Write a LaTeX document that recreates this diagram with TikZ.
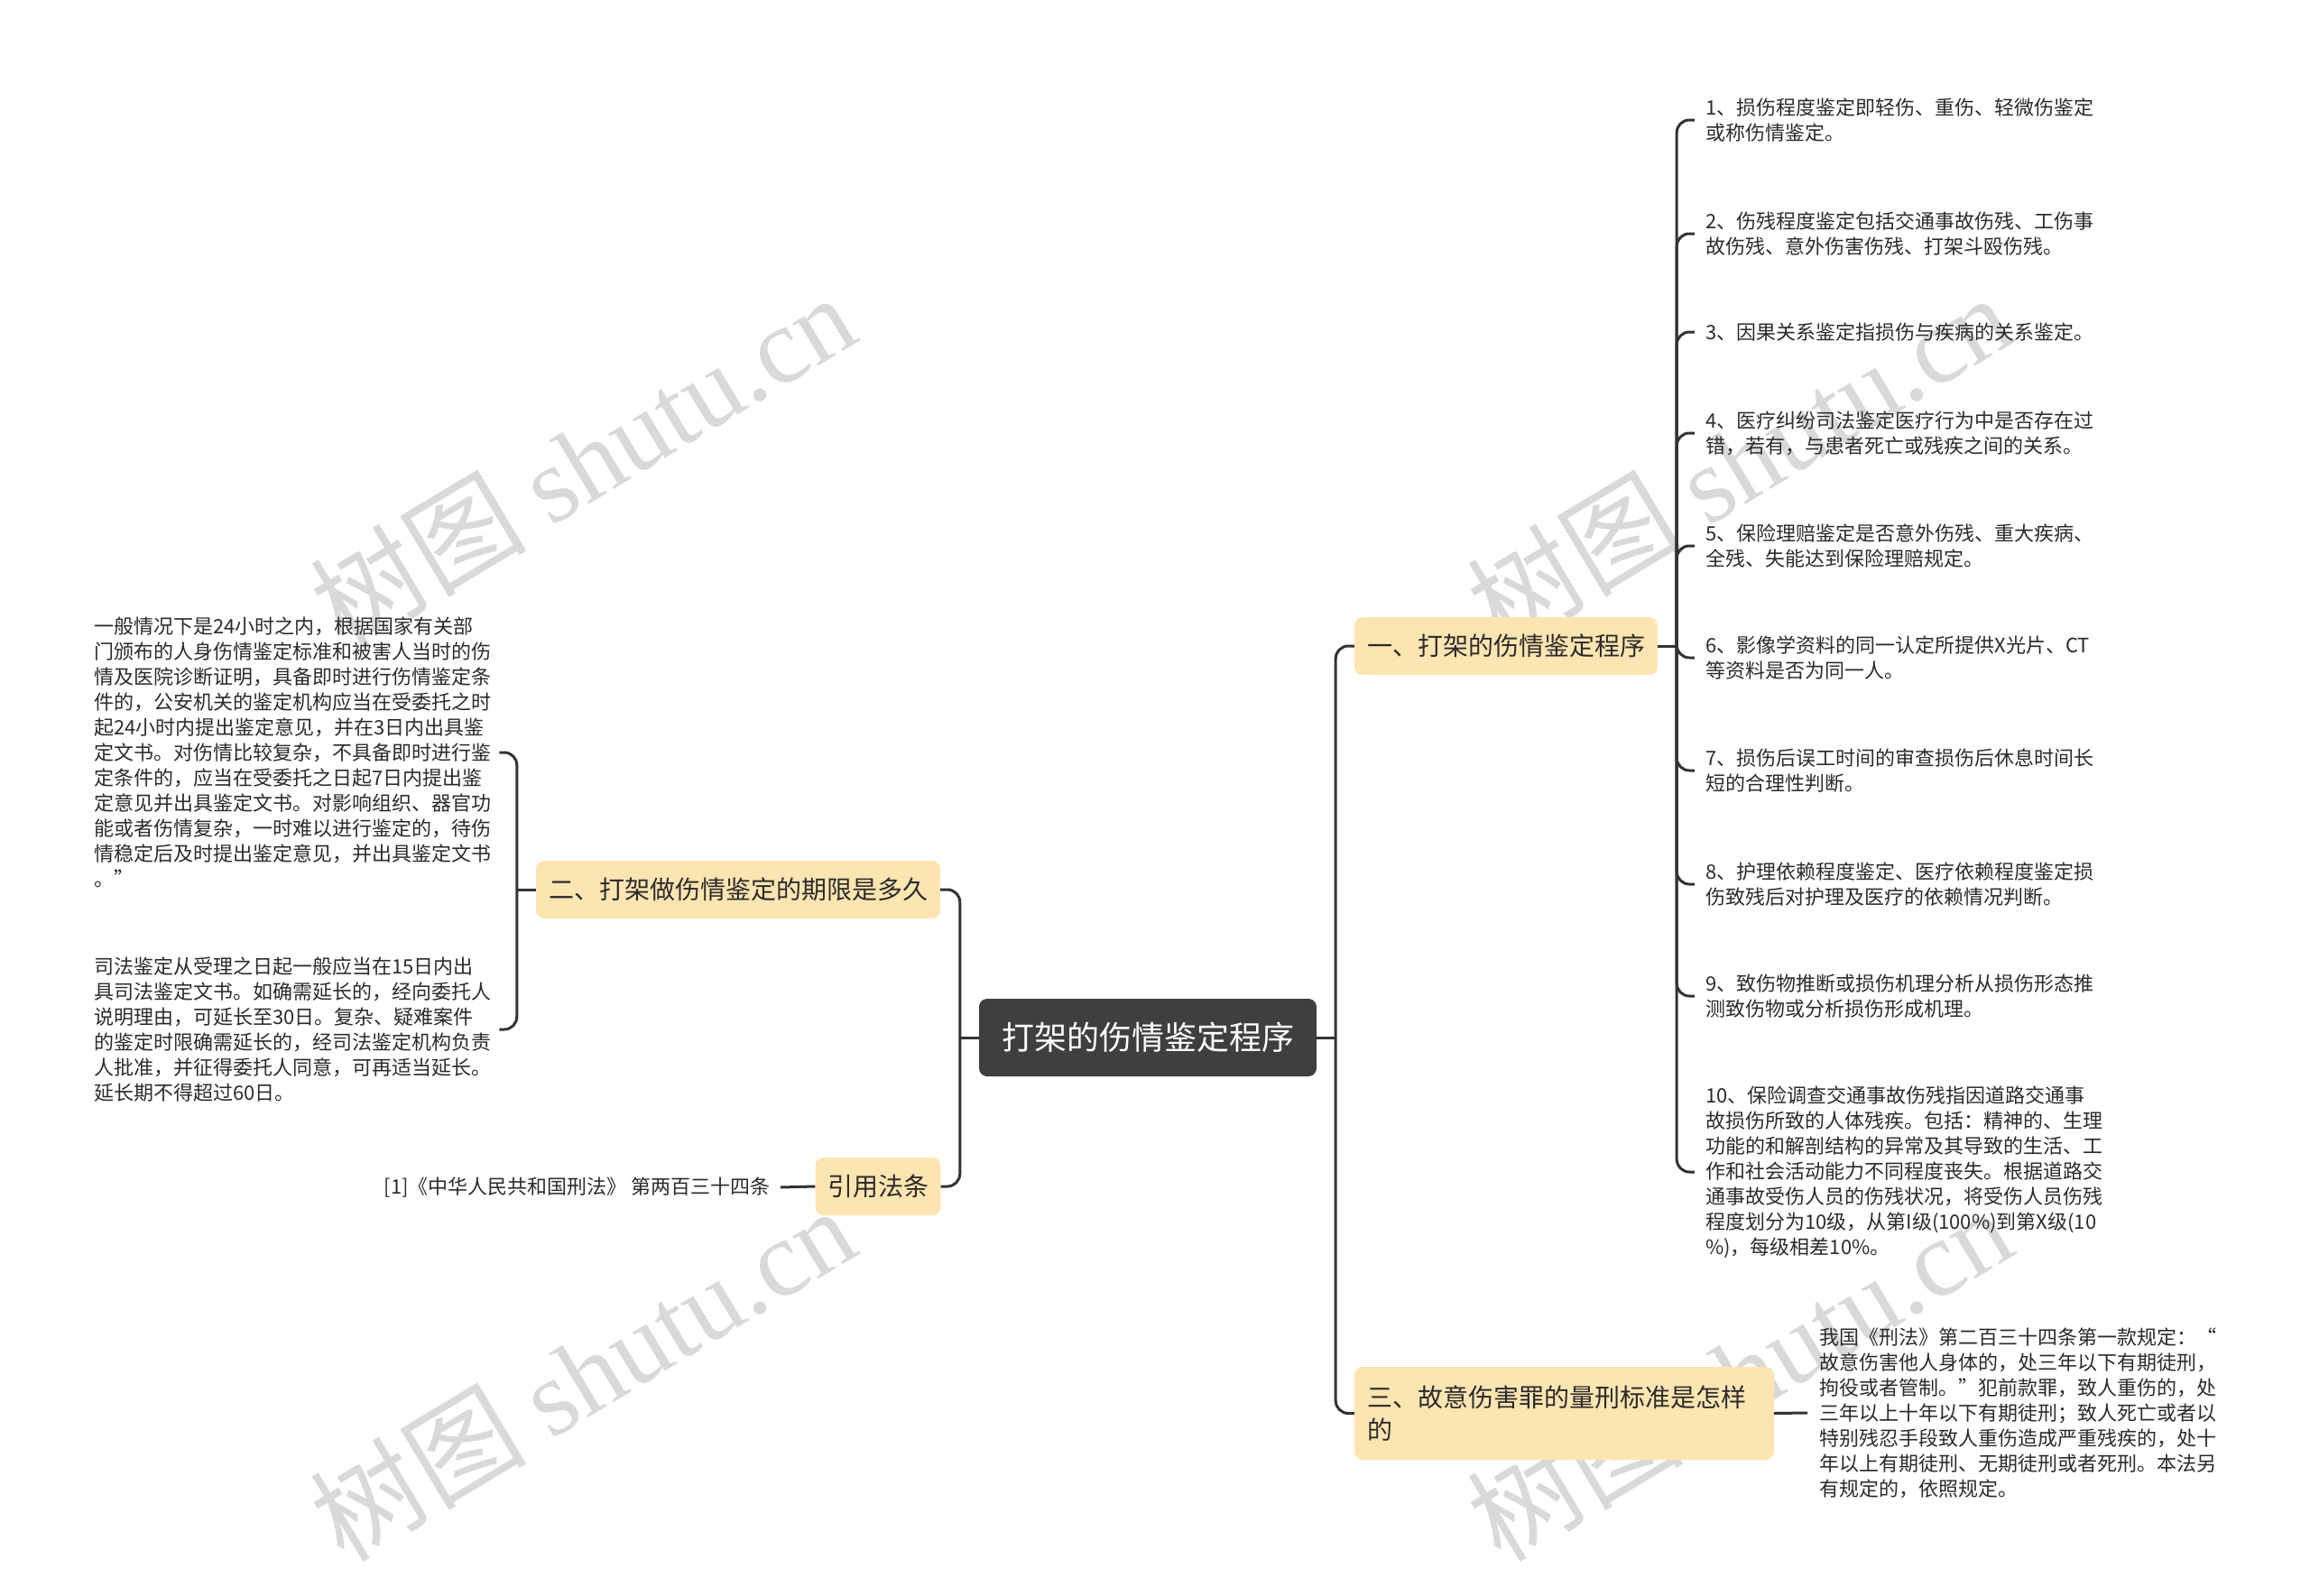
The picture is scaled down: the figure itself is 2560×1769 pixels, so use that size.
\documentclass[tikz,border=0pt]{standalone}
\usepackage{fontspec}
\setmainfont{Noto Sans CJK SC}
\newfontfamily\wmlatin{Liberation Serif}
\definecolor{lc}{HTML}{333333}
\definecolor{tc}{HTML}{2B2B2B}
\definecolor{bc}{HTML}{FDE5B2}
\definecolor{rc}{HTML}{3F3F3F}
\definecolor{wc}{HTML}{D9D9D9}
\newcommand{\leaffont}{\fontsize{22}{28}\selectfont}
\newcommand{\brfont}{\fontsize{28}{36}\selectfont}
\newcommand{\rootfont}{\fontsize{36}{44}\selectfont}
\newcommand{\wmfont}{\fontsize{120}{130}\selectfont}
\tikzset{
  conn/.style={draw=lc, line width=3pt},
  rconn/.style={draw=lc, line width=3pt, rounded corners=14pt},
  leaf/.style={inner sep=0pt, align=left, font=\leaffont, text=tc, anchor=west},
  branch/.style={fill=bc, rounded corners=9pt, inner sep=0pt, font=\brfont, text=tc},
  rootbox/.style={fill=rc, rounded corners=9pt, inner sep=0pt, font=\rootfont, text=white},
  wm/.style={text=wc, rotate=31, inner sep=0pt}
}
\begin{document}
\begin{tikzpicture}[x=1pt,y=-1pt]
\useasboundingbox[fill=white] (0,0) rectangle (2560,1769);
% watermarks
\node[wm] (w1) at (645,510) {\wmfont 树图 {\wmlatin shutu.cn}};
\node[wm] (w2) at (645,1522) {\wmfont 树图 {\wmlatin shutu.cn}};
\node[wm] (w3) at (1927,510) {\wmfont 树图 {\wmlatin shutu.cn}};
\node[wm] (w4) at (1927,1522) {\wmfont 树图 {\wmlatin shutu.cn}};
% root
\node[rootbox, minimum width=374pt, minimum height=86pt] (root) at (1272,1150) {打架的伤情鉴定程序};
% branches
\node[branch, minimum width=336pt, minimum height=64pt] (b1) at (1669,716) {一、打架的伤情鉴定程序};
\node[branch, minimum width=448pt, minimum height=64pt] (b2) at (818,986) {二、打架做伤情鉴定的期限是多久};
\node[branch, minimum width=139pt, minimum height=64pt] (b4) at (973,1315) {引用法条};
\node[branch, minimum width=465pt, minimum height=103pt, align=left, text width=437pt] (b3) at (1733.5,1566.5) {三、故意伤害罪的量刑标准是怎样\\的};
% right leaves
\node[leaf] (r1) at (1890,133) {1、损伤程度鉴定即轻伤、重伤、轻微伤鉴定\\或称伤情鉴定。};
\node[leaf] (r2) at (1890,259) {2、伤残程度鉴定包括交通事故伤残、工伤事\\故伤残、意外伤害伤残、打架斗殴伤残。};
\node[leaf] (r3) at (1890,368) {3、因果关系鉴定指损伤与疾病的关系鉴定。};
\node[leaf] (r4) at (1890,480) {4、医疗纠纷司法鉴定医疗行为中是否存在过\\错，若有，与患者死亡或残疾之间的关系。};
\node[leaf] (r5) at (1890,605) {5、保险理赔鉴定是否意外伤残、重大疾病、\\全残、失能达到保险理赔规定。};
\node[leaf] (r6) at (1890,729) {6、影像学资料的同一认定所提供X光片、CT\\等资料是否为同一人。};
\node[leaf] (r7) at (1890,854) {7、损伤后误工时间的审查损伤后休息时间长\\短的合理性判断。};
\node[leaf] (r8) at (1890,980) {8、护理依赖程度鉴定、医疗依赖程度鉴定损\\伤致残后对护理及医疗的依赖情况判断。};
\node[leaf] (r9) at (1890,1104) {9、致伤物推断或损伤机理分析从损伤形态推\\测致伤物或分析损伤形成机理。};
\node[leaf] (r10) at (1890,1299) {10、保险调查交通事故伤残指因道路交通事\\故损伤所致的人体残疾。包括：精神的、生理\\功能的和解剖结构的异常及其导致的生活、工\\作和社会活动能力不同程度丧失。根据道路交\\通事故受伤人员的伤残状况，将受伤人员伤残\\程度划分为10级，从第I级(100\%)到第X级(10\\\%)，每级相差10\%。};
% branch 3 leaf
\node[leaf] (t1) at (2016,1566) {我国《刑法》第二百三十四条第一款规定：“\\故意伤害他人身体的，处三年以下有期徒刑，\\拘役或者管制。”犯前款罪，致人重伤的，处\\三年以上十年以下有期徒刑；致人死亡或者以\\特别残忍手段致人重伤造成严重残疾的，处十\\年以上有期徒刑、无期徒刑或者死刑。本法另\\有规定的，依照规定。};
% left leaves
\node[leaf, text width=440pt] (l1) at (104,834) {一般情况下是24小时之内，根据国家有关部\\门颁布的人身伤情鉴定标准和被害人当时的伤\\情及医院诊断证明，具备即时进行伤情鉴定条\\件的，公安机关的鉴定机构应当在受委托之时\\起24小时内提出鉴定意见，并在3日内出具鉴\\定文书。对伤情比较复杂，不具备即时进行鉴\\定条件的，应当在受委托之日起7日内提出鉴\\定意见并出具鉴定文书。对影响组织、器官功\\能或者伤情复杂，一时难以进行鉴定的，待伤\\情稳定后及时提出鉴定意见，并出具鉴定文书\\。”};
\node[leaf, text width=440pt] (l2) at (104,1141) {司法鉴定从受理之日起一般应当在15日内出\\具司法鉴定文书。如确需延长的，经向委托人\\说明理由，可延长至30日。复杂、疑难案件\\的鉴定时限确需延长的，经司法鉴定机构负责\\人批准，并征得委托人同意，可再适当延长。\\延长期不得超过60日。};
\node[leaf, anchor=east] (rl) at (854,1316) {[1]《中华人民共和国刑法》 第两百三十四条};
% junctions
\coordinate (jl) at ([xshift=-21pt]root.west);
\coordinate (jr) at ([xshift=21pt]root.east);
\coordinate (j1) at ([xshift=21pt]b1.east);
\coordinate (j2) at ([xshift=-21pt]b2.west);
% root connectors
\draw[conn] (root.west) -- (jl);
\draw[rconn] (jl) |- (b2.east);
\draw[rconn] (jl) |- (b4.east);
\draw[conn] (root.east) -- (jr);
\draw[rconn] (jr) |- (b1.west);
\draw[rconn] (jr) |- (b3.west);
% branch 1 connectors
\draw[conn] (b1.east) -- (j1);
\foreach \n in {r1,r2,r3,r4,r5,r6,r7,r8,r9,r10}{
  \draw[rconn] (j1) |- ([xshift=-12pt]\n.west);
}
% branch 2 connectors
\draw[conn] (b2.west) -- (j2);
\draw[rconn] (j2) |- ([xshift=9pt]l1.east);
\draw[rconn] (j2) |- ([xshift=9pt]l2.east);
% other connectors
\draw[conn] (b4.west) -- ([xshift=11pt]rl.east);
\draw[conn] (b3.east) -- ([xshift=-13pt]t1.west);
\end{tikzpicture}
\end{document}
